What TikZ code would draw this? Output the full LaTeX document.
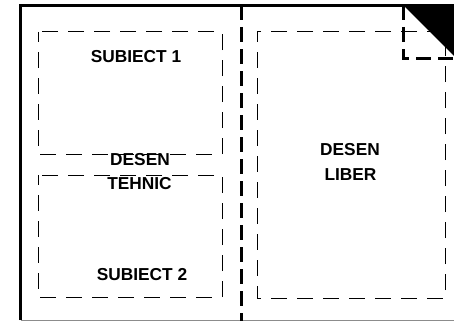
\documentclass[tikz,border=0pt]{standalone}
\usepackage{fontspec}
\setmainfont{Liberation Sans}
\begin{document}
\begin{tikzpicture}[x=1pt,y=-1pt,
  thindash/.style={line width=1pt,dash pattern=on 16pt off 10pt,dash phase=6pt},
  thickdash/.style={line width=3pt,dash pattern=on 15pt off 7pt},
  lbl/.style={inner sep=0pt,font=\fontsize{17.3}{20}\selectfont\bfseries}]
\useasboundingbox (0,0) rectangle (454,321);
% frame
\draw[line width=2.4pt] (20.5,320) -- (20.5,5.5) -- (454,5.5);
\draw[line width=1pt,black!45] (20.5,320) -- (454,320);
% corner triangle
\fill (403,5) -- (454,5) -- (454,56) -- cycle;
\draw[thickdash,dash phase=0pt] (403,5) -- (403,58) -- (454,58);
% middle fold line
\draw[thickdash] (241,5) -- (241,321);
% dashed boxes
\draw[thindash] (38,32) rectangle (222,154);
\draw[thindash] (38,175) rectangle (222,297);
\draw[thindash] (257,32) rectangle (445,298);
% labels
\node[lbl] (s1) at (136,56.5) {SUBIECT 1};
\node[lbl] (d1) at (140,160) {DESEN};
\node[lbl] (t1) at (139.5,183.5) {TEHNIC};
\node[lbl] (s2) at (142,275) {SUBIECT 2};
\node[lbl] (d2) at (350,150) {DESEN};
\node[lbl] (l2) at (350.5,175) {LIBER};
\end{tikzpicture}
\end{document}
